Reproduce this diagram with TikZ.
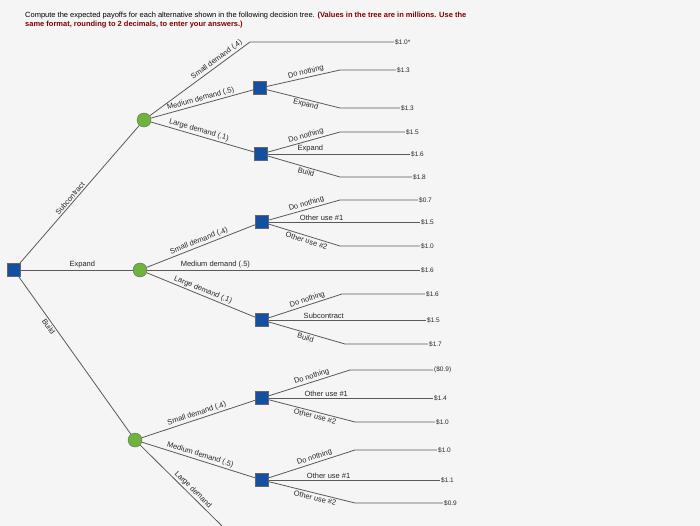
\documentclass[tikz,border=0pt]{standalone}
\usepackage{fontspec}
\setmainfont{Liberation Sans}
\begin{document}
\begin{tikzpicture}[x=1pt,y=-1pt,
  dec/.style={draw=black!60,fill={rgb,255:red,20;green,80;blue,160},minimum size=13pt,inner sep=0pt},
  chn/.style={circle,draw=black!60,fill={rgb,255:red,110;green,180;blue,60},minimum size=14pt,inner sep=0pt},
  ln/.style={draw=black!65,line width=0.8pt},
  lab/.style={font=\fontsize{7.5}{8}\selectfont,text=black!85,inner sep=1.5pt},
  val/.style={font=\fontsize{6.5}{7}\selectfont,anchor=west,text=black!85,inner sep=1pt}]
\fill[gray!8] (0,0) rectangle (700,526);
\useasboundingbox (0,0) rectangle (700,526);
\node[anchor=north west,align=left,font=\fontsize{7.5}{8.5}\selectfont,inner sep=0pt] (title) at (25,12)
 {Compute the expected payoffs for each alternative shown in the following decision tree. \textcolor{red!50!black}{\bfseries(Values in the tree are in millions. Use the}\\
  \textcolor{red!50!black}{\bfseries same format, rounding to 2 decimals, to enter your answers.)}};
% nodes
\node[dec] (r) at (14,270) {};
\node[chn] (cs) at (144,120) {};
\node[chn] (ce) at (140,270) {};
\node[chn] (cb) at (135,440) {};
\node[dec] (d1) at (260,88) {};
\node[dec] (d2) at (261,154) {};
\node[dec] (d3) at (262,222) {};
\node[dec] (d4) at (262,320) {};
\node[dec] (d5) at (262,398) {};
\node[dec] (d6) at (262,480) {};
% value endpoints
\foreach \n/\x/\y/\t in {v1/394/42/{\$1.0*},v2/396/70/{\$1.3},v3/400/108/{\$1.3},v4/405/132/{\$1.5},v5/410/154/{\$1.6},v6/412/177/{\$1.8},
  v7/418/200/{\$0.7},v8/420/222/{\$1.5},v9/420/246/{\$1.0},v10/420/270/{\$1.6},v11/425/294/{\$1.6},v12/426/320/{\$1.5},v13/428/344/{\$1.7},
  v14/433/370/{(\$0.9)},v15/433/398/{\$1.4},v16/435/422/{\$1.0},v17/437/450/{\$1.0},v18/440/480/{\$1.1},v19/443/503/{\$0.9}}
  {\node[val] (\n) at (\x,\y) {\t};}
\coordinate (k1) at (250,42);
\coordinate (k2) at (340,70);\coordinate (k3) at (340,108);
\coordinate (k4) at (340,132);\coordinate (k6) at (340,177);
\coordinate (k7) at (340,200);\coordinate (k9) at (340,246);
\coordinate (k11) at (342,294);\coordinate (k13) at (345,344);
\coordinate (k14) at (350,370);\coordinate (k16) at (355,422);
\coordinate (k17) at (355,450);\coordinate (k19) at (355,503);
\coordinate (lend) at (222,526);
% root
\draw[ln] (r) -- node[lab,sloped,above,pos=0.45]{Subcontract} (cs);
\draw[ln] (r) -- node[lab,above,pos=0.55]{Expand} (ce);
\draw[ln] (r) -- node[lab,sloped,below,pos=0.3]{Build} (cb);
% subcontract
\draw[ln] (cs) -- node[lab,sloped,above,pos=0.7]{Small demand (.4)} (k1) -- (k1 -| v1.west);
\draw[ln] (cs) -- node[lab,sloped,above,pos=0.5]{Medium demand (.5)} (d1);
\draw[ln] (cs) -- node[lab,sloped,above,pos=0.45]{Large demand (.1)} (d2);
\draw[ln] (d1) -- node[lab,sloped,above,pos=0.55]{Do nothing} (k2) -- (k2 -| v2.west);
\draw[ln] (d1) -- node[lab,sloped,below,pos=0.55]{Expand} (k3) -- (k3 -| v3.west);
\draw[ln] (d2) -- node[lab,sloped,above,pos=0.55]{Do nothing} (k4) -- (k4 -| v4.west);
\draw[ln] (d2) -- node[lab,above,pos=0.3]{Expand} (d2 -| v5.west);
\draw[ln] (d2) -- node[lab,sloped,below,pos=0.55]{Build} (k6) -- (k6 -| v6.west);
% expand
\draw[ln] (ce) -- node[lab,sloped,above,pos=0.5]{Small demand (.4)} (d3);
\draw[ln] (ce) -- node[lab,above,pos=0.25]{Medium demand (.5)} (ce -| v10.west);
\draw[ln] (ce) -- node[lab,sloped,above,pos=0.5]{Large demand (.1)} (d4);
\draw[ln] (d3) -- node[lab,sloped,above,pos=0.55]{Do nothing} (k7) -- (k7 -| v7.west);
\draw[ln] (d3) -- node[lab,above,pos=0.35]{Other use \#1} (d3 -| v8.west);
\draw[ln] (d3) -- node[lab,sloped,below,pos=0.55]{Other use \#2} (k9) -- (k9 -| v9.west);
\draw[ln] (d4) -- node[lab,sloped,above,pos=0.55]{Do nothing} (k11) -- (k11 -| v11.west);
\draw[ln] (d4) -- node[lab,above,pos=0.35]{Subcontract} (d4 -| v12.west);
\draw[ln] (d4) -- node[lab,sloped,below,pos=0.5]{Build} (k13) -- (k13 -| v13.west);
% build
\draw[ln] (cb) -- node[lab,sloped,above,pos=0.5]{Small demand (.4)} (d5);
\draw[ln] (cb) -- node[lab,sloped,above,pos=0.5]{Medium demand (.5)} (d6);
\draw[ln] (cb) -- node[lab,sloped,above,pos=0.6]{Large demand} (lend);
\draw[ln] (d5) -- node[lab,sloped,above,pos=0.55]{Do nothing} (k14) -- (k14 -| v14.west);
\draw[ln] (d5) -- node[lab,above,pos=0.35]{Other use \#1} (d5 -| v15.west);
\draw[ln] (d5) -- node[lab,sloped,below,pos=0.55]{Other use \#2} (k16) -- (k16 -| v16.west);
\draw[ln] (d6) -- node[lab,sloped,above,pos=0.55]{Do nothing} (k17) -- (k17 -| v17.west);
\draw[ln] (d6) -- node[lab,above,pos=0.35]{Other use \#1} (d6 -| v18.west);
\draw[ln] (d6) -- node[lab,sloped,below,pos=0.55]{Other use \#2} (k19) -- (k19 -| v19.west);
\end{tikzpicture}
\end{document}
